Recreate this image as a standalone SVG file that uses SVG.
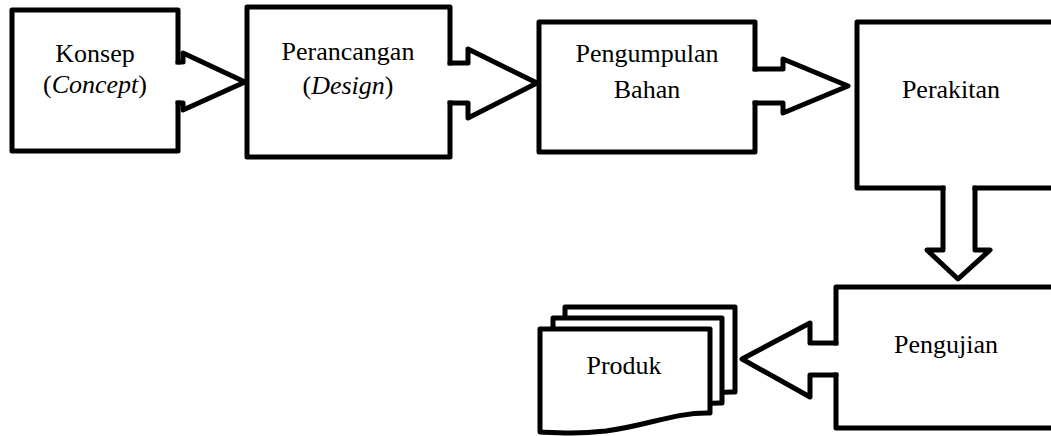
<svg xmlns="http://www.w3.org/2000/svg" width="1051" height="436" viewBox="0 0 1051 436">
  <style>
    .box { fill: #ffffff; stroke: #000000; stroke-width: 5; stroke-linejoin: round; }
    .line { fill: none; stroke: #000000; stroke-width: 5; stroke-linejoin: round; stroke-linecap: round; }
    .cover { fill: #ffffff; stroke: none; }
    .label { font-family: "Liberation Serif", "Times New Roman", serif; font-size: 26px; fill: #000000; text-anchor: middle; }
    .it { font-style: italic; }
  </style>

  <!-- process steps -->
  <g id="node-konsep">
    <rect class="box" x="12" y="10" width="166" height="141"/>
    <text class="label" x="95" y="62">Konsep</text>
    <text class="label" x="95" y="93">(<tspan class="it">Concept</tspan>)</text>
  </g>

  <g id="node-perancangan">
    <rect class="box" x="247" y="7" width="203" height="150"/>
    <text class="label" x="348" y="60">Perancangan</text>
    <text class="label" x="348" y="94">(<tspan class="it">Design</tspan>)</text>
  </g>

  <g id="node-pengumpulan">
    <rect class="box" x="539" y="22" width="216" height="130"/>
    <text class="label" x="647" y="62">Pengumpulan</text>
    <text class="label" x="647" y="98">Bahan</text>
  </g>

  <g id="node-perakitan">
    <rect class="box" x="857" y="22" width="230" height="166"/>
    <text class="label" x="951" y="98">Perakitan</text>
  </g>

  <g id="node-pengujian">
    <rect class="box" x="836" y="287" width="250" height="141"/>
    <text class="label" x="946" y="353">Pengujian</text>
  </g>

  <!-- output: stacked documents -->
  <g id="node-produk">
    <path class="box" d="M565,307 H735 V392 C700,391 670,405 630,410 C600,413 585,412 565,411 Z"/>
    <path class="box" d="M553,318 H722 V403 C688,402 658,416 618,421 C588,424 573,423 553,422 Z"/>
    <path class="box" d="M540,329 H710 V413 C676,412 646,426 606,431 C576,434 561,433 540,432 Z"/>
    <text class="label" x="624" y="374">Produk</text>
  </g>

  <!-- block arrows joining the steps -->
  <g id="connectors">
    <g id="arrow-konsep-perancangan">
      <rect class="cover" x="175" y="64.5" width="8" height="36"/>
      <path class="line" d="M178,62 H183 V53 L245,82 L183,110 V103 H178"/>
    </g>
    <g id="arrow-perancangan-pengumpulan">
      <rect class="cover" x="447" y="65.5" width="20" height="35"/>
      <path class="line" d="M450,63 H468 V49 L537,83 L468,118 V103 H450"/>
    </g>
    <g id="arrow-pengumpulan-perakitan">
      <rect class="cover" x="752" y="71.5" width="30" height="29"/>
      <path class="line" d="M755,69 H783 V59 L848,86 L783,113 V103 H755"/>
    </g>
    <g id="arrow-perakitan-pengujian">
      <rect class="cover" x="945.5" y="185" width="27" height="64"/>
      <path class="line" d="M943,188 V250 H927 L958,279 L990,250 H975 V188"/>
    </g>
    <g id="arrow-pengujian-produk">
      <rect class="cover" x="812" y="345.5" width="27" height="27"/>
      <path class="line" d="M836,343 H810 V323 L742,359 L810,397 V375 H836"/>
    </g>
  </g>
</svg>
